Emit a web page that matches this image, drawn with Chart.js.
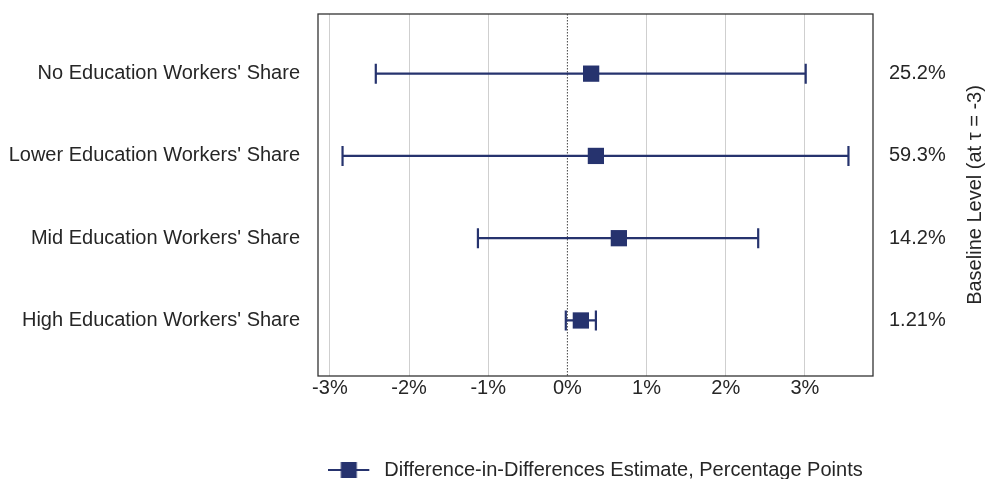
<!DOCTYPE html>
<html>
<head>
<meta charset="utf-8">
<script src="https://cdn.jsdelivr.net/npm/chart.js"></script>
<style>
  html, body { margin: 0; padding: 0; background: #fff; overflow: hidden; }
  canvas { display: block; }
</style>
</head>
<body>
<canvas id="myChart" width="985" height="479"></canvas>
<script>
// Data
const groups = [
  "No Education Workers' Share",
  "Lower Education Workers' Share",
  "Mid Education Workers' Share",
  "High Education Workers' Share"
];
const estimates = [0.30, 0.36, 0.65, 0.17];
const ciLow = [-2.42, -2.84, -1.13, -0.02];
const ciHigh = [3.01, 3.55, 2.41, 0.36];
const baseline = ['25.2%', '59.3%', '14.2%', '1.21%'];
const xTicks = [-3, -2, -1, 0, 1, 2, 3];

const navy = '#26336e';
const font = "'Liberation Sans', Arial, sans-serif";

// legend marker: line with a square in the middle
const marker = document.createElement('canvas');
marker.width = 46;
marker.height = 20;
(function () {
  const c = marker.getContext('2d');
  c.strokeStyle = navy;
  c.lineWidth = 2;
  c.beginPath();
  c.moveTo(0, 10);
  c.lineTo(41, 10);
  c.stroke();
  c.fillStyle = navy;
  c.fillRect(12.5, 2, 16, 16);
})();

// error bars, zero line, frame and right title
const extras = {
  id: 'extras',
  beforeDatasetsDraw(chart) {
    const ctx = chart.ctx;
    const x = chart.scales.x, y = chart.scales.y;
    const a = chart.chartArea;
    ctx.save();
    // zero line
    ctx.strokeStyle = '#444';
    ctx.lineWidth = 1;
    ctx.setLineDash([1.5, 1.5]);
    ctx.beginPath();
    ctx.moveTo(x.getPixelForValue(0), a.top);
    ctx.lineTo(x.getPixelForValue(0), a.bottom);
    ctx.stroke();
    ctx.setLineDash([]);
    // error bars
    ctx.strokeStyle = navy;
    ctx.lineWidth = 2.2;
    groups.forEach((g, i) => {
      const py = y.getPixelForValue(i);
      const x1 = x.getPixelForValue(ciLow[i]);
      const x2 = x.getPixelForValue(ciHigh[i]);
      ctx.beginPath();
      ctx.moveTo(x1, py); ctx.lineTo(x2, py);
      ctx.moveTo(x1, py - 10); ctx.lineTo(x1, py + 10);
      ctx.moveTo(x2, py - 10); ctx.lineTo(x2, py + 10);
      ctx.stroke();
    });
    ctx.restore();
  },
  afterDraw(chart) {
    const ctx = chart.ctx;
    const a = chart.chartArea;
    ctx.save();
    ctx.strokeStyle = '#333';
    ctx.lineWidth = 1.3;
    ctx.strokeRect(a.left, a.top, a.right - a.left, a.bottom - a.top);
    ctx.translate(975, (a.top + a.bottom) / 2);
    ctx.rotate(-Math.PI / 2);
    ctx.fillStyle = '#262626';
    ctx.font = '20px ' + font;
    ctx.textAlign = 'center';
    ctx.textBaseline = 'middle';
    ctx.fillText('Baseline Level (at \u03c4 = -3)', 0, 0);
    ctx.restore();
  }
};

const noPad = s => { s.paddingTop = 0; s.paddingBottom = 0; s.paddingLeft = 0; s.paddingRight = 0; };
const catTicks = scale => { scale.ticks = groups.map((g, i) => ({ value: i })); };

const config = {
  type: 'scatter',
  data: {
    datasets: [{
      label: 'Difference-in-Differences Estimate, Percentage Points',
      data: estimates.map((v, i) => ({ x: v, y: i })),
      pointStyle: 'rect',
      pointRadius: 11.5,
      pointHoverRadius: 11.5,
      backgroundColor: navy,
      borderColor: navy,
      borderWidth: 0
    }]
  },
  options: {
    responsive: false,
    maintainAspectRatio: false,
    animation: false,
    layout: { padding: { top: 14, bottom: -11, left: 0, right: 0 } },
    plugins: {
      tooltip: { enabled: false },
      legend: {
        position: 'bottom',
        fullSize: false,
        labels: {
          usePointStyle: true,
          pointStyle: marker,
          pointStyleWidth: 46,
          color: '#262626',
          font: { family: font, size: 20 },
          padding: 0
        }
      }
    },
    scales: {
      x: {
        type: 'linear',
        min: -3.15,
        max: 3.86,
        afterBuildTicks: s => { s.ticks = xTicks.map(v => ({ value: v })); },
        afterFit: s => { s.height = 84; noPad(s); },
        grid: {
          color: c => c.tick && c.tick.value === 0 ? 'rgba(0,0,0,0)' : '#cfcfcf',
          lineWidth: 1,
          drawTicks: false
        },
        border: { display: false },
        ticks: {
          padding: 0,
          color: '#262626',
          font: { family: font, size: 20 },
          callback: v => v + '%'
        }
      },
      y: {
        type: 'linear',
        reverse: true,
        min: -0.725,
        max: 3.675,
        afterBuildTicks: catTicks,
        afterFit: s => { s.width = 318; noPad(s); },
        grid: { display: false, drawTicks: false },
        border: { display: false },
        ticks: {
          padding: 18,
          color: '#262626',
          font: { family: font, size: 20 },
          callback: v => groups[v]
        }
      },
      y2: {
        type: 'linear',
        position: 'right',
        reverse: true,
        min: -0.725,
        max: 3.675,
        afterBuildTicks: catTicks,
        afterFit: s => { s.width = 112; noPad(s); },
        grid: { display: false, drawTicks: false },
        border: { display: false },
        ticks: {
          padding: 16,
          color: '#262626',
          font: { family: font, size: 20 },
          callback: v => baseline[v]
        }
      }
    }
  },
  plugins: [extras]
};

const myChart = new Chart(document.getElementById('myChart'), config);
</script>
</body>
</html>
